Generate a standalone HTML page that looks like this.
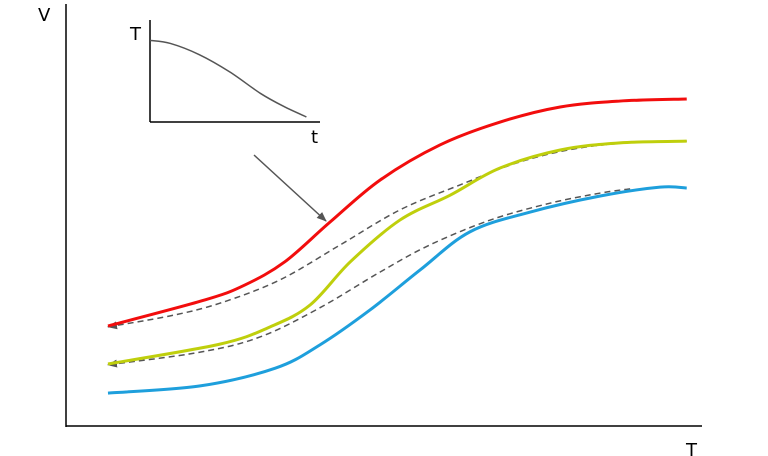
<!DOCTYPE html>
<html><head><meta charset="utf-8"><style>
html,body{margin:0;padding:0;background:#fff;}
svg{display:block;font-family:"DejaVu Sans","Liberation Sans",sans-serif;}
</style></head><body>
<svg id="chart" width="768" height="456" viewBox="0 0 768 456">
<defs>
<marker id="ah" markerWidth="10" markerHeight="8" refX="9" refY="4" orient="auto" markerUnits="userSpaceOnUse"><path d="M0,0 L10,4 L0,8 Z" fill="#555"/></marker>
</defs>
<g>
<line x1="66" y1="4" x2="66" y2="427" stroke="#000" stroke-width="1.5"/>
<line x1="66" y1="426" x2="702" y2="426" stroke="#000" stroke-width="1.5"/>
</g>
<text x="38" y="21" font-size="18">V</text>
<text x="686" y="456" font-size="18">T</text>
<g id="series"></g>
<g>
<line x1="150" y1="20" x2="150" y2="122" stroke="#000" stroke-width="1.5"/>
<line x1="150" y1="122" x2="320" y2="122" stroke="#000" stroke-width="1.5"/>
<text x="130" y="40" font-size="18">T</text>
<text x="311" y="143" font-size="18">t</text>
<g id="inset"></g>
</g>
<line x1="254" y1="155" x2="326" y2="221" stroke="#555" stroke-width="1.5" marker-end="url(#ah)"/>
</svg>
<script>
const redT=[6.6,21.9,28.1,34.4,41.5,49.4,58.8,68.2,77.7,87.1,97.6];
const redV=[23.7,29.9,33.4,38.9,48.3,58.3,66.6,72.0,75.6,77.0,77.5];
const yellowT=[6.6,24.2,32.1,38.4,44.7,52.5,60.4,68.2,77.7,87.1,97.6];
const yellowV=[14.7,19.4,23.5,28.7,38.9,48.8,54.7,61.1,65.4,67.1,67.5];
const blueT=[6.6,21.1,32.9,39.9,47.8,55.7,63.5,73.0,84.0,93.4,97.6];
const blueV=[7.8,9.5,13.7,19.2,27.5,37.0,46.0,50.7,54.5,56.6,56.4];
const dashTopT=[97.6,90.3,80.8,71.4,61.9,52.5,43.1,33.6,24.2,16.4,6.6];
const dashTopV=[67.5,67.3,65.9,62.6,57.1,51.2,42.9,34.6,29.1,26.1,23.5];
const dashLowT=[88.7,84.0,76.1,66.7,57.2,49.4,39.9,30.5,21.1,6.6];
const dashLowV=[56.2,55.2,52.8,48.8,42.9,36.5,28.0,21.1,17.5,14.5];
const insetTime=[0,12,29,47,65,79,92];
const insetTemp=[80,77,66,49,28,15,5];

const NS="http://www.w3.org/2000/svg";
const xS=t=>66+t*6.36, yS=v=>426-v*4.22;
const ixS=t=>150+t*1.7, iyS=v=>122-v*1.02;
function smooth(pts){
  let d=`M${pts[0][0]},${pts[0][1]}`;
  for(let i=0;i<pts.length-1;i++){
    const p0=pts[Math.max(0,i-1)],p1=pts[i],p2=pts[i+1],p3=pts[Math.min(pts.length-1,i+2)];
    const c1=[p1[0]+(p2[0]-p0[0])/6,p1[1]+(p2[1]-p0[1])/6];
    const c2=[p2[0]-(p3[0]-p1[0])/6,p2[1]-(p3[1]-p1[1])/6];
    d+=` C${c1[0]},${c1[1]} ${c2[0]},${c2[1]} ${p2[0]},${p2[1]}`;
  }
  return d;
}
function draw(parent,T,V,fx,fy,color,w,dash,arrow,name){
  const p=document.createElementNS(NS,"path");
  
  
  p.setAttribute("d",smooth(T.map((t,i)=>[fx(t),fy(V[i])])));
  p.setAttribute("fill","none");p.setAttribute("stroke",color);p.setAttribute("stroke-width",w);
  if(dash)p.setAttribute("stroke-dasharray",dash);
  if(arrow)p.setAttribute("marker-end","url(#ah)");
  parent.appendChild(p);
}
const g=document.getElementById("series");
draw(g,dashTopT,dashTopV,xS,yS,"#555",1.5,"6 4",true,'dashed-upper-transition');
draw(g,dashLowT,dashLowV,xS,yS,"#555",1.5,"6 4",true,'dashed-lower-transition');
draw(g,redT,redV,xS,yS,"#f20d0d",3,null,false,'red-curve');
draw(g,yellowT,yellowV,xS,yS,"#bfcf0c",3,null,false,'yellow-curve');
draw(g,blueT,blueV,xS,yS,"#1e9fdc",3,null,false,'blue-curve');
draw(document.getElementById("inset"),insetTime,insetTemp,ixS,iyS,"#555",1.5,null,false,'inset-temperature-curve');
</script>
</body></html>
